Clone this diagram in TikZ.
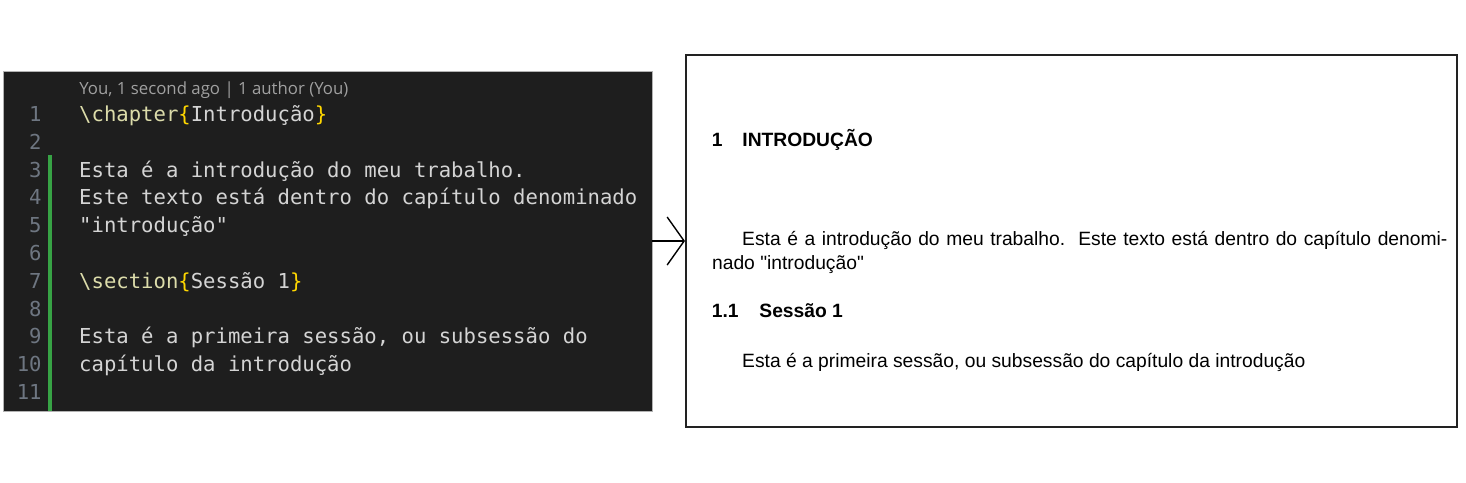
\documentclass[tikz,border=0pt]{standalone}
\usepackage{fontspec}
\setmainfont{Liberation Sans}[Ligatures=TeXOff]
\setmonofont{DejaVu Sans Mono}
\newfontfamily\uifont{Open Sans}
\usepackage{tikz}
\usetikzlibrary{arrows.meta}
\usepackage{color}

\definecolor{codebg}{HTML}{1E1E1E}
\definecolor{codefg}{HTML}{D4D4D4}
\definecolor{cmdcol}{HTML}{DCDCAA}
\definecolor{bracecol}{HTML}{FFD700}
\definecolor{lnumcol}{HTML}{6E7681}
\definecolor{authorcol}{HTML}{A0A0A0}
\definecolor{gutteradd}{HTML}{37A345}
\definecolor{framecol}{HTML}{222222}

\tikzset{
  codeline/.style={anchor=base west, inner sep=0pt, text=codefg,
    font=\ttfamily\fontsize{10.3}{12}\selectfont},
  lnum/.style={anchor=base east, inner sep=0pt, text=lnumcol,
    font=\ttfamily\fontsize{10.3}{12}\selectfont},
  docline/.style={anchor=base west, inner sep=0pt, text=black,
    font=\fontsize{9.63}{11}\selectfont},
  dochead/.style={docline, font=\bfseries\fontsize{9.63}{11}\selectfont},
}
\newcommand{\cmd}[1]{\textcolor{cmdcol}{\textbackslash #1}}
\newcommand{\brc}[1]{\textcolor{bracecol}{\{}#1\textcolor{bracecol}{\}}}

\begin{document}
\begin{tikzpicture}[x=0.5pt, y=-0.5pt]
  \useasboundingbox (0,0) rectangle (1466,482);
  % boxes
  \node[fill=codebg, draw=gray!60, line width=0.3pt, inner sep=0pt,
        minimum width=324.5pt, minimum height=170pt] (editor) at (327.5,241) {};
  \node[draw=framecol, line width=1pt, fill=white, inner sep=0pt,
        minimum width=385.5pt, minimum height=186pt] (doc) at (1071.5,241) {};
  \fill[gutteradd] (48,155) rectangle (52,411);

  % editor
  \node[anchor=base west, inner sep=0pt, text=authorcol,
        font=\uifont\fontsize{8.4}{10}\selectfont] (blame) at (79,94)
        {You, 1 second ago | 1 author (You)};
  \foreach \n in {1,...,11}
    \node[lnum] (ln\n) at (42, {121.5+27.8*(\n-1)}) {\n};
  \node[codeline] (c1) at (78.8,121.5) {\cmd{chapter}\brc{Introdução}};
  \node[codeline] (c3) at (78.8,177.1) {Esta é a introdução do meu trabalho.};
  \node[codeline] (c4) at (78.8,204.9) {Este texto está dentro do capítulo denominado};
  \node[codeline] (c5) at (78.8,232.7) {"introdução"};
  \node[codeline] (c7) at (78.8,288.3) {\cmd{section}\brc{Sessão 1}};
  \node[codeline] (c9) at (78.8,343.9) {Esta é a primeira sessão, ou subsessão do};
  \node[codeline] (c10) at (78.8,371.7) {capítulo da introdução};

  % compiled page
  \node[dochead] (chap) at (711.5,146) {\makebox[15.25pt][l]{1}INTRODUÇÃO};
  \node[docline] (p1a) at (741.8,245)
        {\makebox[352.6pt][s]{Esta é a introdução do meu trabalho.\ \ Este texto está dentro do capítulo denomi-}};
  \node[docline] (p1b) at (711.7,269) {nado "introdução"};
  \node[dochead] (sec) at (711.5,317) {\makebox[23.75pt][l]{1.1}Sessão 1};
  \node[docline] (p2) at (741.8,367) {Esta é a primeira sessão, ou subsessão do capítulo da introdução};

  % arrow
  \draw[line width=0.7pt, -{Straight Barb[length=8.5pt, width=24pt]}] (editor.east) -- (doc.west);
\end{tikzpicture}
\end{document}
